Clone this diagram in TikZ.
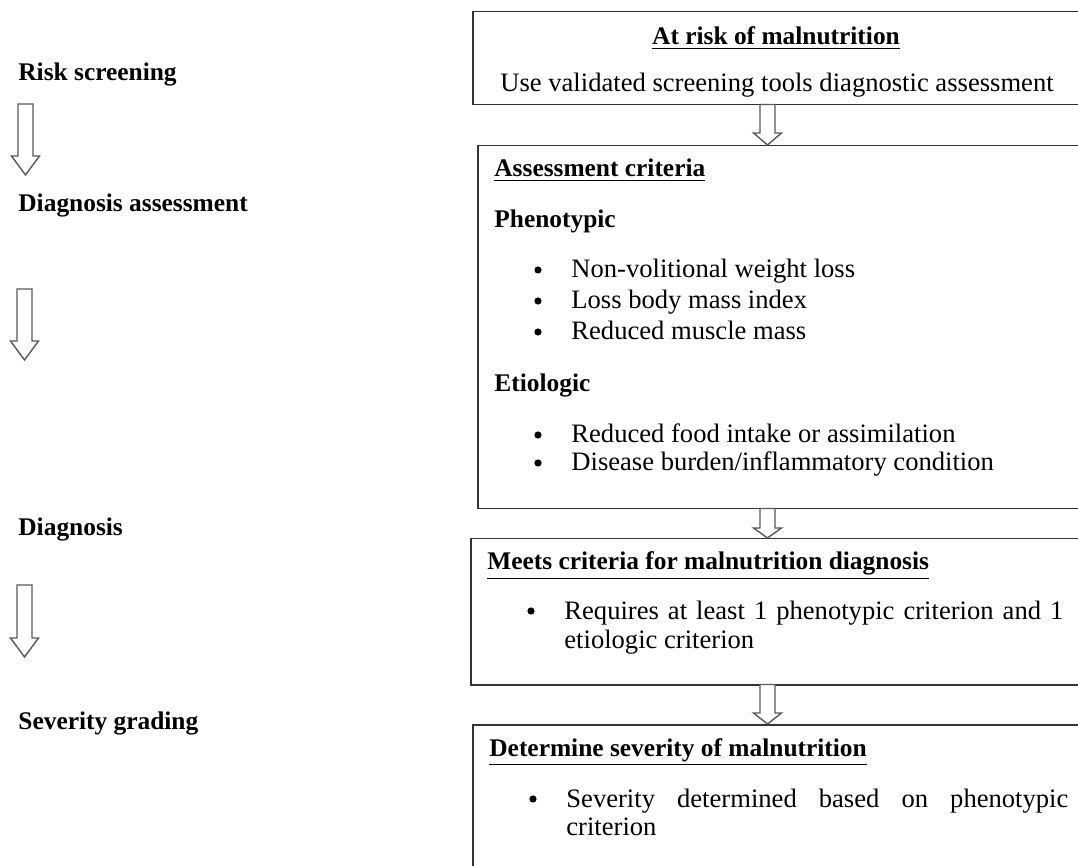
\documentclass[tikz,border=0pt]{standalone}
\usepackage{fontspec}
\setmainfont{Liberation Serif}
\newcommand{\blockarrowpath}[4]{%
  \draw[blockarrow] (#1-7.5,#2) -- (#1+7.5,#2) -- (#1+7.5,#3) -- (#1+14,#3) -- (#1,#4) -- (#1-14,#3) -- (#1-7.5,#3) -- cycle;}
\tikzset{
  box/.style={draw=black!80, line width=0.75pt, fill=white, anchor=north west, inner sep=0pt},
  blockarrow/.style={draw=black!65, line width=0.7pt, fill=white, line join=miter},
  txt/.style={anchor=base west, inner sep=0pt, font=\fontsize{13.3}{16}\selectfont},
  btxt/.style={anchor=base west, inner sep=0pt, font=\fontsize{12.7}{16}\selectfont\bfseries},
  ctxt/.style={anchor=base, inner sep=0pt, font=\fontsize{13.3}{16}\selectfont},
  cbtxt/.style={anchor=base, inner sep=0pt, font=\fontsize{12.7}{16}\selectfont\bfseries},
  bul/.style={circle, fill=black, inner sep=0pt, minimum size=3.6pt},
}
\begin{document}
\begin{tikzpicture}[x=0.5pt,y=-0.5pt]
\useasboundingbox (0,0) rectangle (1078,866);
\clip (0,0) rectangle (1078,866);
\fill[white] (0,0) rectangle (1078,866);

% left stage labels
\node[btxt] (l1) at (18,81) {Risk screening};
\node[btxt] (l2) at (18,212) {Diagnosis assessment};
\node[btxt] (l3) at (18,536) {Diagnosis};
\node[btxt] (l4) at (18,729) {Severity grading};

% left block arrows
\blockarrowpath{25.5}{104}{156}{175}
\blockarrowpath{24.5}{289}{341}{360}
\blockarrowpath{24.5}{585}{638}{657}

% boxes
\node[box, minimum width=309pt, minimum height=46.5pt] (b1) at (472,11) {};
\node[box, minimum width=306pt, minimum height=181.5pt] (b2) at (477,145) {};
\node[box, minimum width=310pt, minimum height=73pt] (b3) at (470,538) {};
\node[box, minimum width=309pt, minimum height=80pt] (b4) at (472,724) {};

% connectors between boxes
\blockarrowpath{767.5}{104.5}{133}{145}
\blockarrowpath{767.5}{508.5}{528}{538}
\blockarrowpath{767.5}{684.5}{713}{724}

% box 1
\node[cbtxt] (t1) at (776,45) {\underline{At risk of malnutrition}};
\node[ctxt] (t1b) at (777,92) {Use validated screening tools diagnostic assessment};

% box 2
\node[btxt] (t2) at (494,177) {\underline{Assessment criteria}};
\node[btxt] (p) at (494,228) {Phenotypic};
\node[bul] (pb1) at (538,270) {};
\node[txt] (p1) at (571,278) {Non-volitional weight loss};
\node[bul] (pb2) at (538,301) {};
\node[txt] (p2) at (571,309) {Loss body mass index};
\node[bul] (pb3) at (538,332) {};
\node[txt] (p3) at (571,340) {Reduced muscle mass};
\node[btxt] (e) at (494,392) {Etiologic};
\node[bul] (eb1) at (538,435) {};
\node[txt] (e1) at (571,443) {Reduced food intake or assimilation};
\node[bul] (eb2) at (538,463) {};
\node[txt] (e2) at (571,471) {Disease burden/inflammatory condition};

% box 3
\node[btxt] (t3) at (487,570) {\underline{Meets criteria for malnutrition diagnosis}};
\node[bul] (mb) at (531,611) {};
\node[txt] (m1) at (564,619) {\makebox[249.5pt][s]{Requires at least 1 phenotypic criterion and 1}};
\node[txt] (m2) at (564,648) {etiologic criterion};

% box 4
\node[btxt] (t4) at (489,756) {\underline{Determine severity of malnutrition}};
\node[bul] (sb) at (533,799) {};
\node[txt] (s1) at (566,807) {\makebox[251pt][s]{Severity determined based on phenotypic}};
\node[txt] (s2) at (566,835) {criterion};
\end{tikzpicture}
\end{document}
